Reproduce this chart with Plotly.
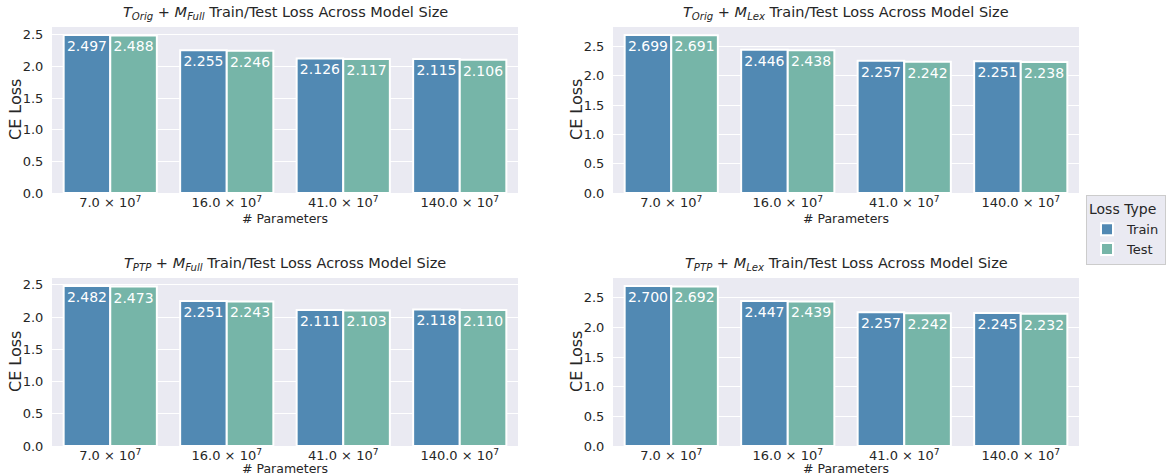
import plotly.graph_objects as go

categories = ["7.0 × 10<sup>7</sup>", "16.0 × 10<sup>7</sup>", "41.0 × 10<sup>7</sup>", "140.0 × 10<sup>7</sup>"]

titles = [
    "<i>T<sub>Orig</sub></i> + <i>M<sub>Full</sub></i> Train/Test Loss Across Model Size",
    "<i>T<sub>Orig</sub></i> + <i>M<sub>Lex</sub></i> Train/Test Loss Across Model Size",
    "<i>T<sub>PTP</sub></i> + <i>M<sub>Full</sub></i> Train/Test Loss Across Model Size",
    "<i>T<sub>PTP</sub></i> + <i>M<sub>Lex</sub></i> Train/Test Loss Across Model Size",
]

orig_full_train = [2.497, 2.255, 2.126, 2.115]
orig_full_test = [2.488, 2.246, 2.117, 2.106]
orig_lex_train = [2.699, 2.446, 2.257, 2.251]
orig_lex_test = [2.691, 2.438, 2.242, 2.238]
ptp_full_train = [2.482, 2.251, 2.111, 2.118]
ptp_full_test = [2.473, 2.243, 2.103, 2.110]
ptp_lex_train = [2.700, 2.447, 2.257, 2.245]
ptp_lex_test = [2.692, 2.439, 2.242, 2.232]

panels = [
    (orig_full_train, orig_full_test),
    (orig_lex_train, orig_lex_test),
    (ptp_full_train, ptp_full_test),
    (ptp_lex_train, ptp_lex_test),
]

W, H = 1171, 475
BLUE = "#5189b3"
GREEN = "#76b5a8"
BG = "#eaeaf2"
TXT = "#262626"
FONT = "DejaVu Sans"
CLEAR = "rgba(0,0,0,0)"

# pixel boxes (left, right, top, bottom)
boxes = [
    (52, 518, 27, 193),
    (613, 1079, 27, 193),
    (52, 518, 278, 446),
    (613, 1079, 278, 446),
]
xtitle_offset = [25, 25, 22, 22]

fig = go.Figure()
annotations = []
for i, ((tr, te), (l, r, t, b)) in enumerate(zip(panels, boxes)):
    n = i + 1
    xa = "x" if n == 1 else f"x{n}"
    ya = "y" if n == 1 else f"y{n}"
    for name, vals, col in (("Train", tr, BLUE), ("Test", te, GREEN)):
        fig.add_trace(go.Bar(
            x=categories, y=vals, name=name, legendgroup=name,
            showlegend=(i == 0), xaxis=xa, yaxis=ya,
            marker=dict(color=col, line=dict(color="white", width=2)),
            text=[f"{v:.3f}" for v in vals], textposition="inside",
            insidetextanchor="end", textangle=0,
            textfont=dict(color="white", size=14, family=FONT),
            hoverinfo="skip",
        ))
    ymax = max(max(tr), max(te)) * 1.05
    xd = [l / W, r / W]
    yd = [(H - b) / H, (H - t) / H]
    fig.layout[f"xaxis{'' if n == 1 else n}"] = dict(
        domain=xd, anchor=ya, type="category", showgrid=False, automargin=False,
        tickfont=dict(size=13, color=TXT, family=FONT),
        ticks="", zeroline=False, showline=False,
    )
    fig.layout[f"yaxis{'' if n == 1 else n}"] = dict(
        domain=yd, anchor=xa, range=[0, ymax], dtick=0.5, tickformat=".1f", automargin=False,
        showgrid=True, gridcolor="white", gridwidth=1.2,
        tickfont=dict(size=13, color=TXT, family=FONT),
        ticks="outside", ticklen=5, tickcolor=CLEAR,
        zeroline=False, showline=False,
    )
    annotations.append(dict(
        text=titles[i], x=(l + r) / 2 / W, y=(H - t + 3) / H, xref="paper", yref="paper",
        xanchor="center", yanchor="bottom", showarrow=False,
        font=dict(size=14.5, color=TXT, family=FONT),
    ))
    annotations.append(dict(
        text="# Parameters", x=(l + r) / 2 / W, y=(H - b - xtitle_offset[i]) / H,
        xref="paper", yref="paper",
        xanchor="center", yanchor="middle", showarrow=False,
        font=dict(size=12.5, color=TXT, family=FONT),
    ))
    annotations.append(dict(
        text="CE Loss", x=(l - 37) / W, y=(H - (t + b) / 2) / H, xref="paper", yref="paper",
        xanchor="center", yanchor="middle", showarrow=False, textangle=-90,
        font=dict(size=16, color=TXT, family=FONT),
    ))

fig.update_layout(
    width=W, height=H,
    margin=dict(l=0, r=0, t=0, b=0, autoexpand=False),
    paper_bgcolor="white", plot_bgcolor=BG,
    barmode="group", bargap=0.2, bargroupgap=0,
    uniformtext=dict(minsize=14, mode="show"),
    font=dict(family=FONT, color=TXT),
    annotations=annotations,
    legend=dict(
        title=dict(text="Loss Type", font=dict(size=14, color=TXT, family=FONT)),
        font=dict(size=13, color=TXT, family=FONT),
        x=1086 / W, y=(H - 195) / H, xanchor="left", yanchor="top",
        bgcolor=BG, bordercolor="#cccccc", borderwidth=1,
        itemwidth=30, tracegroupgap=0,
    ),
)

fig.write_html(
    "out.html",
    config={"displayModeBar": False},
    post_script="document.body.style.margin='0';document.body.style.overflow='hidden';",
)
